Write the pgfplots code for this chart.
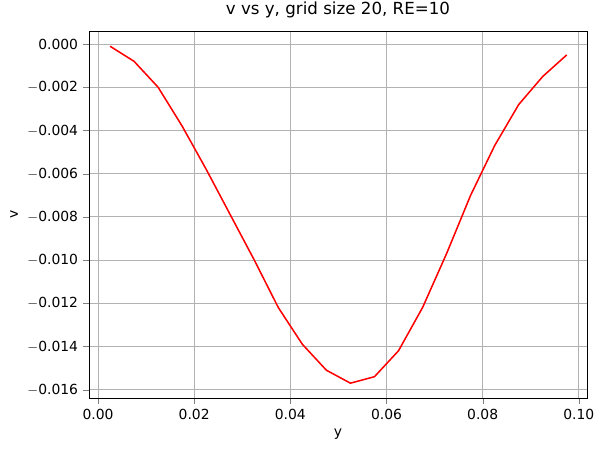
\documentclass[border=0pt]{standalone}
\usepackage{pgfplots}
\pgfplotsset{compat=1.18}
\usepackage{fontspec}
\setmainfont{DejaVu Sans}
\begin{document}
\begin{tikzpicture}
\begin{axis}[
  width=358.6pt, height=264.2pt, scale only axis,
  xmin=-0.0019, xmax=0.1017, ymin=-0.01639, ymax=0.0006,
  xtick={0,0.02,0.04,0.06,0.08,0.1},
  ytick={-0.016,-0.014,-0.012,-0.010,-0.008,-0.006,-0.004,-0.002,0},
  xticklabels={0.00,0.02,0.04,0.06,0.08,0.10},
  yticklabels={$-$0.016,$-$0.014,$-$0.012,$-$0.010,$-$0.008,$-$0.006,$-$0.004,$-$0.002,0.000},
  scaled ticks=false,
  grid=major, grid style={gray!60, line width=0.6pt},
  tick align=outside, tick pos=left,
  ticklabel style={font=\fontsize{10}{12}\selectfont},
  label style={font=\fontsize{10}{12}\selectfont},
  xlabel={y}, ylabel={v},
  title={v vs y, grid size 20, RE=10},
  title style={font=\fontsize{12}{14}\selectfont},
]
\addplot[red, line width=1.1pt] coordinates {
(0.0025,-0.0001)(0.0075,-0.0008)(0.0125,-0.0020)(0.0175,-0.0038)(0.0225,-0.0058)
(0.0275,-0.0079)(0.0325,-0.0100)(0.0375,-0.0122)(0.0425,-0.0139)(0.0475,-0.0151)
(0.0525,-0.0157)(0.0575,-0.0154)(0.0625,-0.0142)(0.0675,-0.0122)(0.0725,-0.0097)
(0.0775,-0.0070)(0.0825,-0.0047)(0.0875,-0.0028)(0.0925,-0.0015)(0.0975,-0.0005)};
\end{axis}
\pgfresetboundingbox
\path (current axis.south west) ++(-64pt,-39.6pt) rectangle ++(432.7pt,326.2pt);
\end{tikzpicture}
\end{document}
